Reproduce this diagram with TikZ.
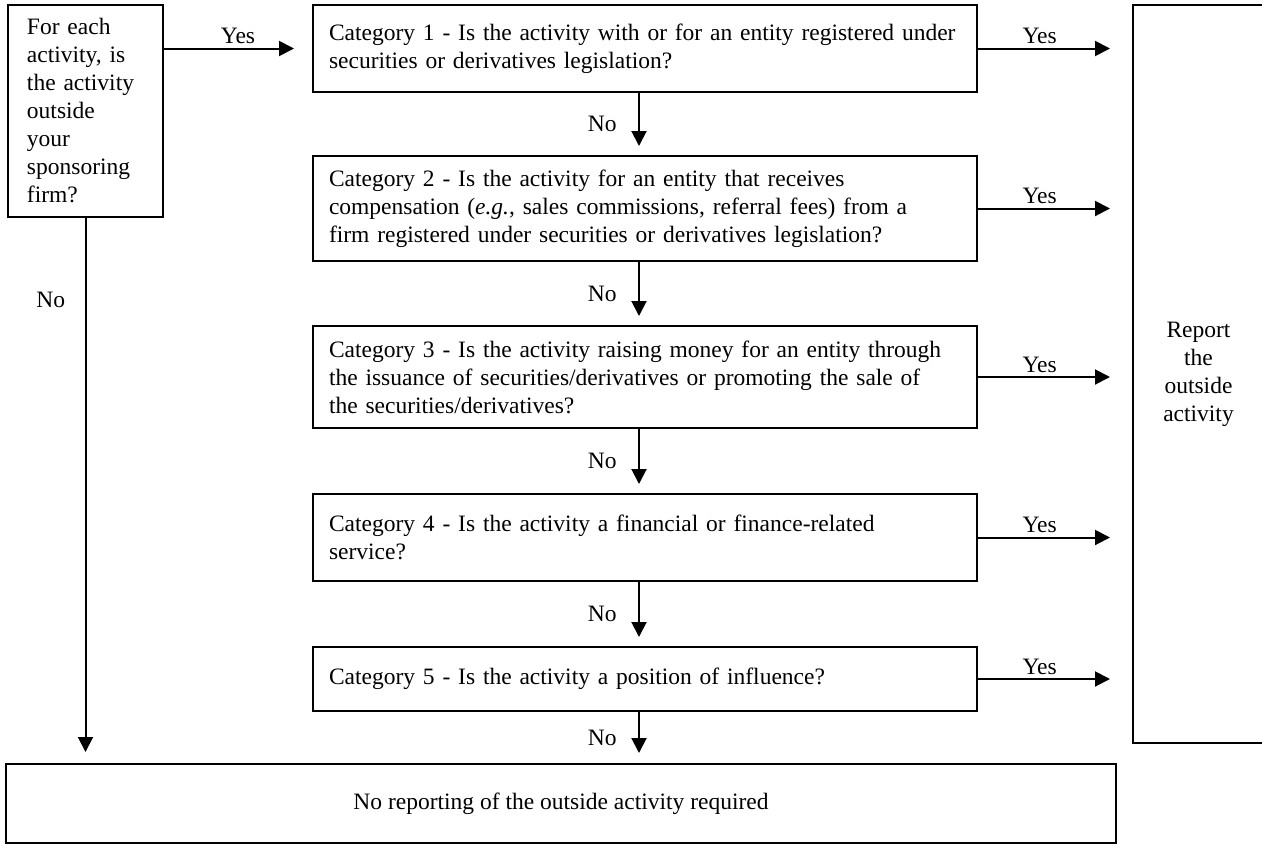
\documentclass[tikz,border=0pt]{standalone}
\usepackage{fontspec}
\setmainfont{Liberation Serif}
\usepackage{tikz}
\usetikzlibrary{arrows.meta,positioning}

\begin{document}
\begin{tikzpicture}[
    font=\fontsize{23.5}{28}\selectfont,
    node distance=63pt,
    box/.style={rectangle, draw, line width=2pt, inner sep=0pt},
    catbox/.style={box, text width=632pt, inner xsep=16pt, align=left},
    arrow/.style={line width=2pt, ->, >={Triangle[length=15pt,width=15pt]}}
]
\useasboundingbox (0,0) rectangle (1262pt,-844pt);

% Question on the left
\node[box, text width=117pt, inner xsep=19pt, minimum height=212pt, align=left] (outside) at (85.5pt,-111pt)
    {For each\\activity, is\\the activity\\outside\\your\\sponsoring\\firm?};

% Categories (middle column)
\node[catbox, minimum height=87pt] (cat1) at (645pt,-48.5pt)
    {Category 1 - Is the activity with or for an entity registered under\\securities or derivatives legislation?};
\node[catbox, minimum height=105pt, below=62pt of cat1] (cat2)
    {Category 2 - Is the activity for an entity that receives\\compensation (\textit{e.g.}, sales commissions, referral fees) from a\\firm registered under securities or derivatives legislation?};
\node[catbox, minimum height=102pt, below=of cat2] (cat3)
    {Category 3 - Is the activity raising money for an entity through\\the issuance of securities/derivatives or promoting the sale of\\the securities/derivatives?};
\node[catbox, minimum height=87pt, below=64pt of cat3] (cat4)
    {Category 4 - Is the activity a financial or finance-related\\service?};
\node[catbox, minimum height=64pt, below=64pt of cat4] (cat5)
    {Category 5 - Is the activity a position of influence?};

% Outcomes
\node[box, minimum width=131pt, minimum height=738pt, align=center] (report) at (1198.5pt,-374pt)
    {Report\\the\\outside\\activity};
\node[box, minimum width=1110pt, minimum height=79pt] (noreport) at (561pt,-803.5pt)
    {No reporting of the outside activity required};

% Arrows
\draw[arrow, shorten >=18pt] (outside.east |- cat1.west) -- node[above]{Yes} (cat1.west);
\draw[arrow, shorten >=11pt] (outside.south) -- (outside.south |- noreport.north)
    node[pos=0.15, left=16pt]{No};
\foreach \i/\j in {1/2,2/3,3/4,4/5}{
    \draw[arrow, shorten >=9pt] ([xshift=-6pt]cat\i.south) -- ([xshift=-6pt]cat\j.north)
        node[midway, left=18pt]{No};
}
\draw[arrow, shorten >=10pt] ([xshift=-6pt]cat5.south) -- ([xshift=-6pt]cat5.south |- noreport.north)
    node[midway, left=18pt]{No};
\foreach \i in {1,...,5}{
    \draw[arrow, shorten >=22pt] (cat\i.east) -- (cat\i.east -| report.west)
        node[pos=0.4, above]{Yes};
}

\end{tikzpicture}
\end{document}
